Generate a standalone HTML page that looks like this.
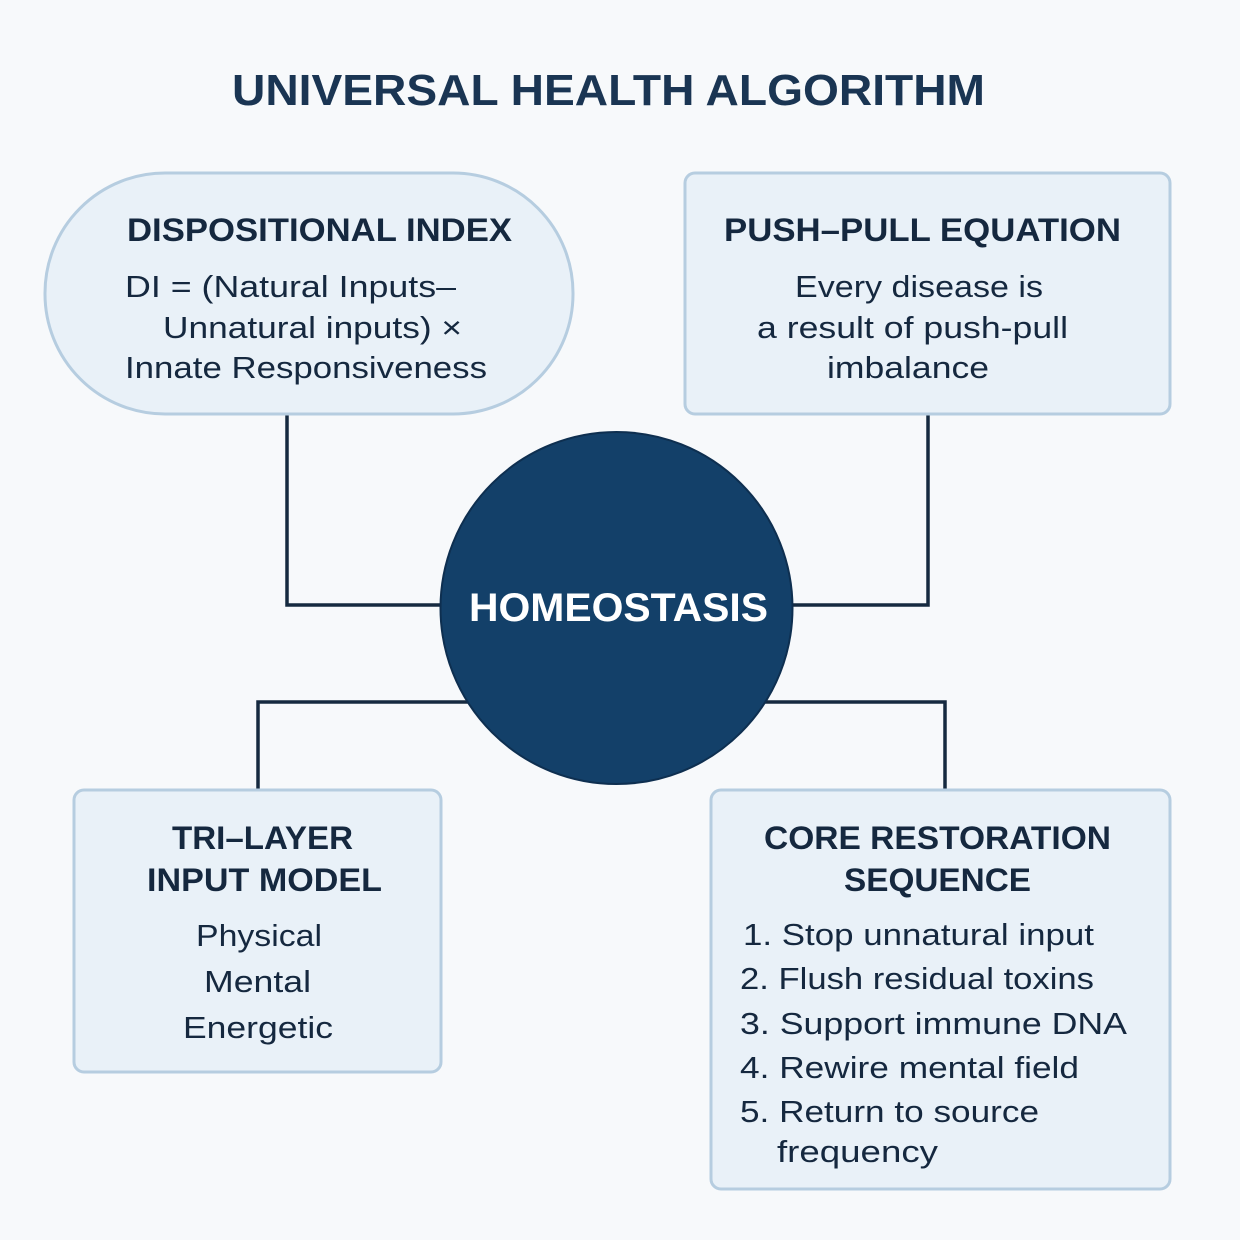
<!DOCTYPE html>
<html><head><meta charset="utf-8"><style>
html,body{margin:0;padding:0;background:#f7f9fb;}
svg{display:block;}
text{font-family:"Liberation Sans",sans-serif;fill:#15283f;}
.h{font-weight:bold;font-size:32px;}
.b{font-size:31px;}
</style></head><body>
<svg width="1240" height="1240" viewBox="0 0 1240 1240" xmlns="http://www.w3.org/2000/svg">
<rect width="1240" height="1240" fill="#f7f9fb"/>
<g stroke="#162a40" stroke-width="3.5" fill="none">
<polyline points="287,414 287,605 445,605"/>
<polyline points="928,414 928,605 790,605"/>
<polyline points="468,702 258,702 258,790"/>
<polyline points="765,702 945,702 945,790"/>
</g>
<text x="232" y="105" font-size="44" font-weight="bold" textLength="753" lengthAdjust="spacingAndGlyphs" style="fill:#1a3553">UNIVERSAL HEALTH ALGORITHM</text>
<rect x="45" y="173" width="528" height="241" rx="120" fill="#e9f1f8" stroke="#b6cde0" stroke-width="3"/>
<rect x="685" y="173" width="485" height="241" rx="10" fill="#e9f1f8" stroke="#b6cde0" stroke-width="3"/>
<rect x="74" y="790" width="367" height="282" rx="10" fill="#e9f1f8" stroke="#b6cde0" stroke-width="3"/>
<rect x="711" y="790" width="459" height="399" rx="10" fill="#e9f1f8" stroke="#b6cde0" stroke-width="3"/>
<circle cx="616.5" cy="608" r="176" fill="#134069" stroke="#0e2f50" stroke-width="2"/>
<text x="469" y="621" font-size="40" font-weight="bold" textLength="299" lengthAdjust="spacingAndGlyphs" style="fill:#ffffff">HOMEOSTASIS</text>

<text class="h" x="127" y="241" textLength="385" lengthAdjust="spacingAndGlyphs">DISPOSITIONAL INDEX</text>
<text class="b" x="125" y="297" textLength="331" lengthAdjust="spacingAndGlyphs">DI = (Natural Inputs–</text>
<text class="b" x="163" y="338" textLength="299" lengthAdjust="spacingAndGlyphs">Unnatural inputs) ×</text>
<text class="b" x="125" y="378" textLength="362" lengthAdjust="spacingAndGlyphs">Innate Responsiveness</text>

<text class="h" x="724" y="241" textLength="397" lengthAdjust="spacingAndGlyphs">PUSH–PULL EQUATION</text>
<text class="b" x="795" y="297" textLength="248" lengthAdjust="spacingAndGlyphs">Every disease is</text>
<text class="b" x="757" y="338" textLength="311" lengthAdjust="spacingAndGlyphs">a result of push-pull</text>
<text class="b" x="827" y="378" textLength="162" lengthAdjust="spacingAndGlyphs">imbalance</text>

<text class="h" x="172" y="849" textLength="181" lengthAdjust="spacingAndGlyphs">TRI–LAYER</text>
<text class="h" x="147" y="891" textLength="235" lengthAdjust="spacingAndGlyphs">INPUT MODEL</text>
<text class="b" x="196" y="946" textLength="126" lengthAdjust="spacingAndGlyphs">Physical</text>
<text class="b" x="204" y="992" textLength="107" lengthAdjust="spacingAndGlyphs">Mental</text>
<text class="b" x="183" y="1038" textLength="150" lengthAdjust="spacingAndGlyphs">Energetic</text>

<text class="h" x="764" y="849" textLength="347" lengthAdjust="spacingAndGlyphs">CORE RESTORATION</text>
<text class="h" x="844" y="891" textLength="187" lengthAdjust="spacingAndGlyphs">SEQUENCE</text>
<text class="b" x="743" y="945" textLength="351" lengthAdjust="spacingAndGlyphs">1. Stop unnatural input</text>
<text class="b" x="740" y="989" textLength="354" lengthAdjust="spacingAndGlyphs">2. Flush residual toxins</text>
<text class="b" x="740" y="1034" textLength="387" lengthAdjust="spacingAndGlyphs">3. Support immune DNA</text>
<text class="b" x="740" y="1078" textLength="339" lengthAdjust="spacingAndGlyphs">4. Rewire mental field</text>
<text class="b" x="740" y="1122" textLength="299" lengthAdjust="spacingAndGlyphs">5. Return to source</text>
<text class="b" x="777" y="1162" textLength="161" lengthAdjust="spacingAndGlyphs">frequency</text>
</svg>
</body></html>
